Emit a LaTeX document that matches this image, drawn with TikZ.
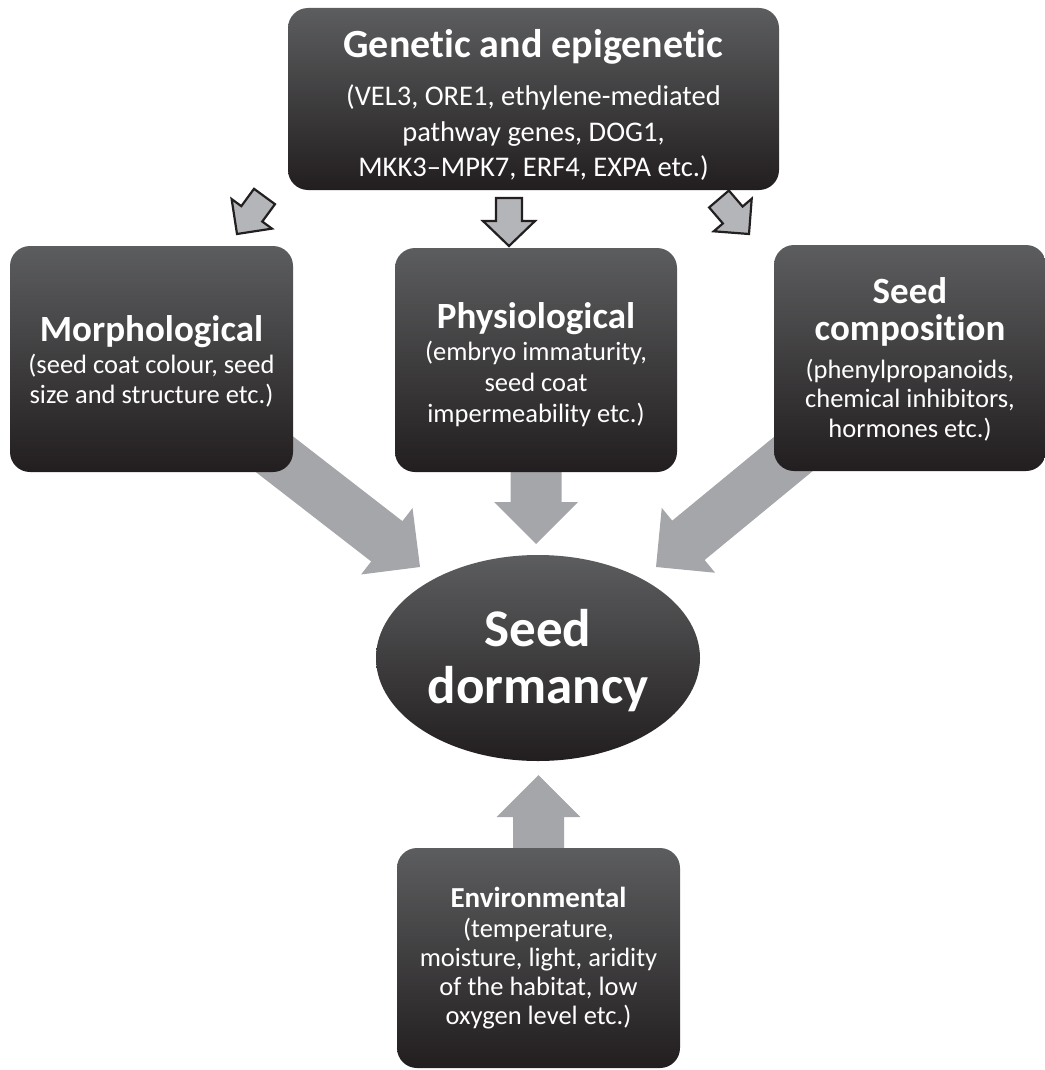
\documentclass[tikz,border=0pt]{standalone}
\usepackage{fontspec}
\setmainfont{Carlito}[Ligatures=TeX, RawFeature={-liga;-clig;-dlig;-calt}]
\usetikzlibrary{calc,shapes.geometric}
\pgfdeclarelayer{bg}
\pgfsetlayers{bg,main}
\definecolor{boxtop}{HTML}{5C5D5F}
\definecolor{boxbot}{HTML}{221E1F}
\definecolor{bigarr}{HTML}{A4A6A9}
\definecolor{smallarr}{HTML}{B3B5B8}
\definecolor{arredge}{HTML}{231F20}
\tikzset{
  factor/.style={draw=none, rounded corners=20pt, top color=boxtop, bottom color=boxbot, inner sep=0pt},
  core/.style={ellipse, draw=none, top color=boxtop, bottom color=boxbot, inner sep=0pt, minimum width=324pt, minimum height=206pt},
  lbl/.style={text=white, align=center, inner sep=0pt},
  bigblock/.style={fill=bigarr, draw=none},
  smallblock/.style={fill=smallarr, draw=arredge, line width=2.2pt, line join=miter},
}
\newcommand\ttlfont{\bfseries\fontsize{37}{37}\selectfont}
% #1 style, #2 tail, #3 tip, #4 head length, #5 head half width, #6 shaft half width
\newcommand\blockarrow[6]{%
  \path ($(#3)!#4!(#2)$) coordinate (ah);
  \path[#1] (#3) -- ($(ah)!#5!90:(#3)$) -- ($(ah)!#6!90:(#3)$)
    -- ($(#2)!#6!90:(#3)$) -- ($(#2)!#6!-90:(#3)$)
    -- ($(ah)!#6!-90:(#3)$) -- ($(ah)!#5!-90:(#3)$) -- cycle;
}
\begin{document}
\begin{tikzpicture}[x=1pt,y=-1pt]
\useasboundingbox (0,0) rectangle (1044,1070);

% boxes
\node[factor, minimum width=491pt, minimum height=182pt] (gen) at (533.5,99) {};
\node[factor, minimum width=283pt, minimum height=226pt] (morph) at (151.5,359) {};
\node[factor, minimum width=282pt, minimum height=224pt] (phys) at (536,360) {};
\node[factor, minimum width=272pt, minimum height=226pt] (comp) at (910,358) {};
\node[core] (dorm) at (538,658) {};
\node[factor, minimum width=283pt, minimum height=220pt] (env) at (538.5,958) {};

% texts
\node[lbl, font=\fontsize{28.5}{35.5}\selectfont] (genT) at ($(gen.center)+(0,6)$)
  {\bfseries\fontsize{40}{40}\selectfont Genetic and epigenetic\\[12.5pt]
   (VEL3, ORE1, ethylene-mediated\\ pathway genes, DOG1,\\ MKK3–MPK7, ERF4, EXPA etc.)};
\node[lbl, font=\fontsize{26.5}{30}\selectfont] (morphT) at ($(morph.center)+(0,2)$)
  {\ttlfont Morphological\\[2pt] (seed coat colour, seed\\ size and structure etc.)};
\node[lbl, font=\fontsize{26.5}{31}\selectfont] (physT) at ($(phys.center)+(0,5)$)
  {\ttlfont Physiological\\[1pt] (embryo immaturity,\\ seed coat\\ impermeability etc.)};
\node[lbl, font=\fontsize{26.5}{29.5}\selectfont] (compT) at ($(comp.center)+(0,1)$)
  {\ttlfont Seed\\[7.5pt] \ttlfont composition\\[8.5pt] (phenylpropanoids,\\ chemical inhibitors,\\ hormones etc.)};
\node[lbl, font=\bfseries\fontsize{53}{57}\selectfont] (dormT) at ($(dorm.center)+(0,2.5)$)
  {Seed\\ dormancy};
\node[lbl, font=\fontsize{26.5}{29}\selectfont] (envT) at (env.center)
  {\bfseries\fontsize{29}{29}\selectfont Environmental\\[1pt] (temperature,\\ moisture, light, aridity\\ of the habitat, low\\ oxygen level etc.)};

% arrow end points
\coordinate (tipM) at (420,567);
\coordinate (tipP) at (536,544);
\coordinate (tipC) at (656,567);
\coordinate (tipE) at (538.5,775);
\coordinate (sLt) at (264.5,196.5);
\coordinate (sLh) at (237,234);
\coordinate (sMt) at (509,198);
\coordinate (sMh) at (509,246);
\coordinate (sRt) at (719,199);
\coordinate (sRh) at (749,234);

\begin{pgfonlayer}{bg}
  \blockarrow{bigblock}{morph.center}{tipM}{42pt}{42pt}{25.5pt}
  \blockarrow{bigblock}{phys.center}{tipP}{42pt}{42pt}{25.5pt}
  \blockarrow{bigblock}{comp.center}{tipC}{42pt}{42pt}{25.5pt}
  \blockarrow{bigblock}{env.center}{tipE}{42pt}{42pt}{25.5pt}
  \blockarrow{smallblock}{sLt}{sLh}{25pt}{25pt}{13pt}
  \blockarrow{smallblock}{sMt}{sMh}{25pt}{26pt}{13pt}
  \blockarrow{smallblock}{sRt}{sRh}{25pt}{25pt}{13pt}
\end{pgfonlayer}
\end{tikzpicture}
\end{document}
